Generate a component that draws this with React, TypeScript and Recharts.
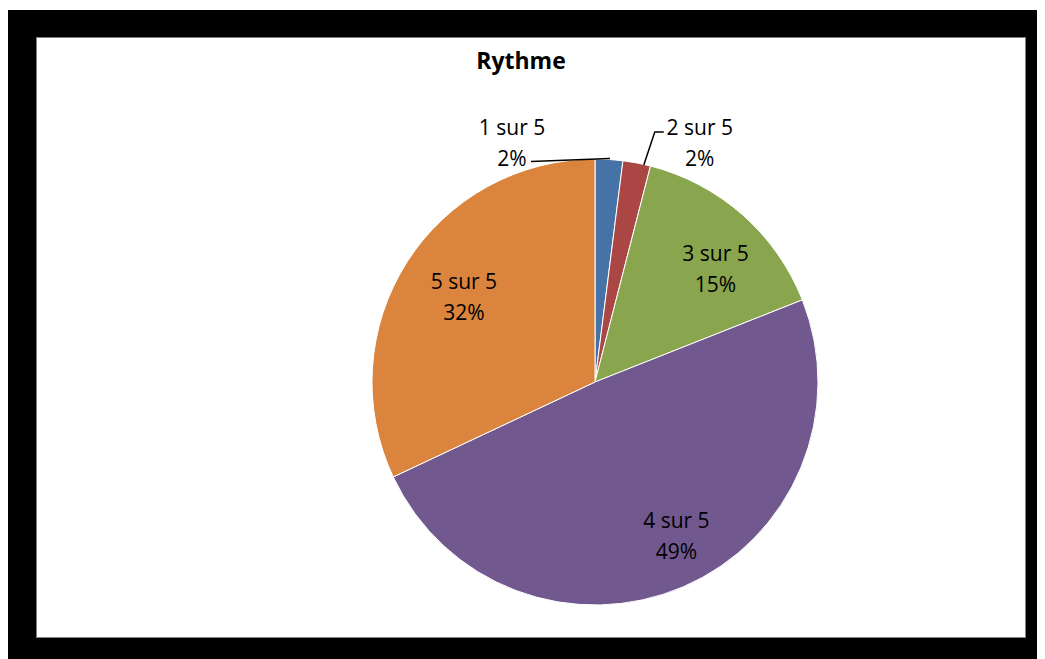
import { PieChart, Pie, Cell } from 'recharts';

const categories = ['1 sur 5', '2 sur 5', '3 sur 5', '4 sur 5', '5 sur 5'];
const values = [2, 2, 15, 49, 32];
const colors = ['#4572A7', '#AA4643', '#89A54E', '#71588F', '#DB843D'];

const data = categories.map((name, i) => ({ name, value: values[i] }));

const RAD = Math.PI / 180;
const FONT = '"Open Sans", "Liberation Sans", sans-serif';

// label placement for the two thin slices (offset from slice edge)
const outside: Record<number, { dx: number; dy: number; elbow?: boolean }> = {
  0: { dx: -97, dy: -16 },
  1: { dx: 63, dy: -20, elbow: true },
};
// inside labels: radius fraction and angle nudge (deg)
const inside: Record<number, { r: number; da: number }> = {
  2: { r: 0.74, da: -5.5 },
  3: { r: 0.78, da: 4.5 },
  4: { r: 0.7, da: -0.5 },
};

const renderLabel = (props: any) => {
  const { cx, cy, midAngle, outerRadius, index, percent } = props;
  const pct = `${Math.round(percent * 100)}%`;
  const name = categories[index];
  if (outside[index]) {
    const cos = Math.cos(-midAngle * RAD);
    const sin = Math.sin(-midAngle * RAD);
    const o = outside[index];
    const ex = cx + outerRadius * cos;
    const ey = cy + outerRadius * sin;
    const lx = ex + o.dx;
    const ly = ey + o.dy;
    let path: string;
    if (o.elbow) {
      path = `M${ex + 7},${ey + 2} L${ex + 18},${ey - 31} L${ex + 27},${ey - 31}`;
    } else {
      path = `M${ex + 1},${ey - 1} L${ex - 78},${ey + 2}`;
    }
    return (
      <g>
        <path d={path} stroke="#000" strokeWidth={1.5} fill="none" />
        <text x={lx} y={ly} textAnchor="middle" fontFamily={FONT} fontSize={21} fill="#000">
          <tspan x={lx} dy={-8}>{name}</tspan>
          <tspan x={lx} dy={31}>{pct}</tspan>
        </text>
      </g>
    );
  }
  const t = inside[index] || { r: 0.73, da: 0 };
  const a = (midAngle + t.da) * RAD;
  const r = outerRadius * t.r;
  const x = cx + r * Math.cos(-a);
  const y = cy + r * Math.sin(-a);
  return (
    <text x={x} y={y} textAnchor="middle" fontFamily={FONT} fontSize={21} fill="#000">
      <tspan x={x} dy={-8}>{name}</tspan>
      <tspan x={x} dy={31}>{pct}</tspan>
    </text>
  );
};

export default function App() {
  return (
    <div style={{ width: 1037, height: 649, marginTop: 2, background: '#000', position: 'relative' }}>
      <div
        style={{
          position: 'absolute',
          left: 28,
          top: 27,
          width: 990,
          height: 601,
          background: '#fff',
          border: '1px solid #808080',
          boxSizing: 'border-box',
        }}
      >
        <div
          style={{
            position: 'absolute',
            left: 0,
            width: 968,
            top: 6,
            textAlign: 'center',
            fontFamily: FONT,
            fontWeight: 700,
            fontSize: 23,
            color: '#000',
          }}
        >
          Rythme
        </div>
        <PieChart width={988} height={599}>
          <Pie
            data={data}
            dataKey="value"
            nameKey="name"
            cx={553}
            cy={339}
            outerRadius={223}
            startAngle={90}
            endAngle={-270}
            stroke="#fff"
            strokeWidth={1}
            label={renderLabel}
            labelLine={false}
            isAnimationActive={false}
          >
            {data.map((d, i) => (
              <Cell key={d.name} fill={colors[i]} />
            ))}
          </Pie>
        </PieChart>
      </div>
    </div>
  );
}
